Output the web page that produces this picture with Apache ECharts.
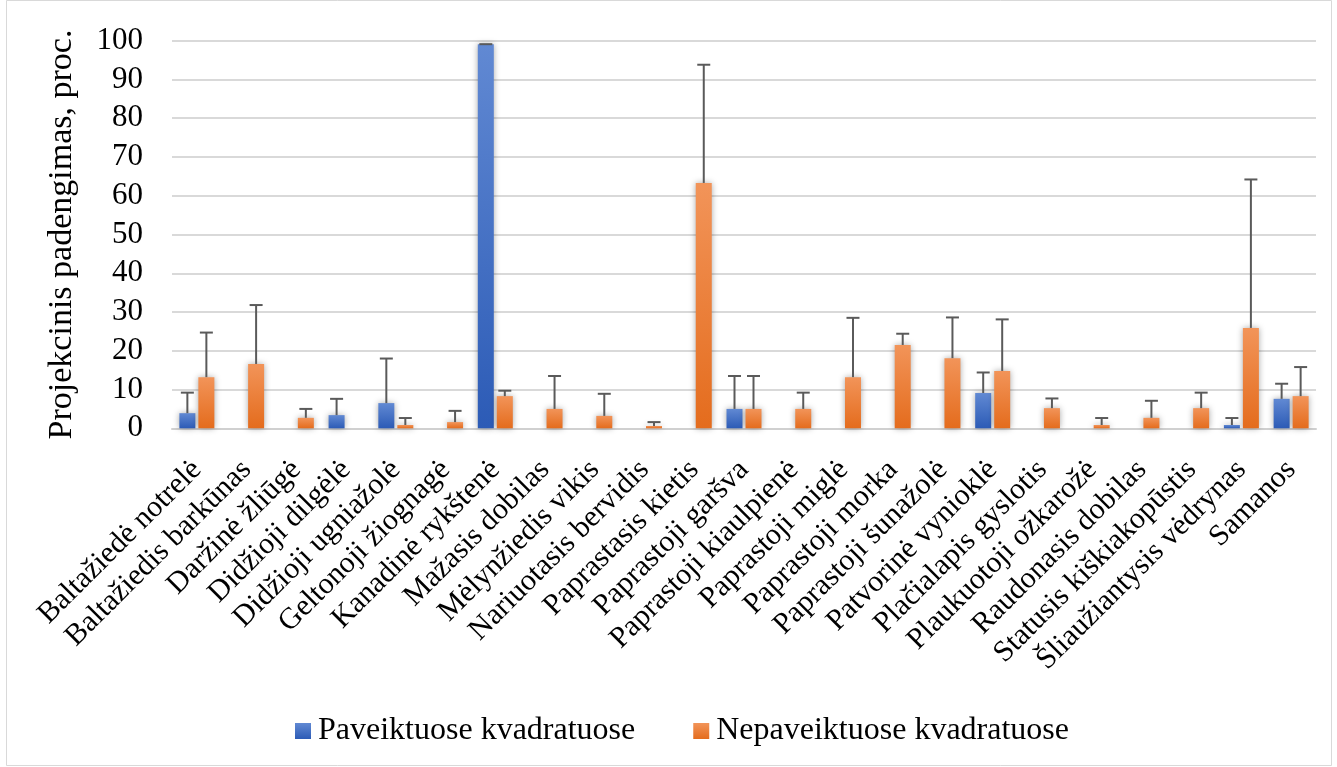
<!DOCTYPE html>
<html>
<head>
<meta charset="utf-8">
<script src="https://cdn.jsdelivr.net/npm/echarts@6/dist/echarts.min.js"></script>
<style>html,body{margin:0;padding:0;background:#fff}#c{width:1337px;height:767px}</style>
</head>
<body>
<div id="c"></div>
<script>
const categories = [
  "Baltažiedė notrelė", "Baltažiedis barkūnas", "Daržinė žliūgė", "Didžioji dilgėlė",
  "Didžioji ugniažolė", "Geltonoji žiognagė", "Kanadinė rykštenė", "Mažasis dobilas",
  "Mėlynžiedis vikis", "Nariuotasis bervidis", "Paprastasis kietis", "Paprastoji garšva",
  "Paprastoji kiaulpienė", "Paprastoji miglė", "Paprastoji morka", "Paprastoji šunažolė",
  "Patvorinė vynioklė", "Plačialapis gyslotis", "Plaukuotoji ožkarožė", "Raudonasis dobilas",
  "Statusis kiškiakopūstis", "Šliaužiantysis vėdrynas", "Samanos"
];
const seriesNames = ["Paveiktuose kvadratuose", "Nepaveiktuose kvadratuose"];
const paveiktuose = [3.9, 0, 0, 3.4, 6.5, 0, 99.1, 0, 0, 0, 0, 5.0, 0, 0, 0, 0, 9.1, 0, 0, 0, 0, 0.85, 7.6];
const paveiktuoseErr = [5.3, 0, 0, 4.2, 11.5, 0, 0, 0, 0, 0, 0, 8.5, 0, 0, 0, 0, 5.3, 0, 0, 0, 0, 1.8, 3.9];
const nepaveiktuose = [13.2, 16.6, 2.7, 0, 0.85, 1.6, 8.3, 5.0, 3.2, 0.6, 63.3, 5.0, 5.0, 13.2, 21.5, 18.1, 14.8, 5.2, 0.85, 2.7, 5.2, 25.9, 8.3];
const nepaveiktuoseErr = [11.5, 15.2, 2.3, 0, 1.8, 2.9, 1.4, 8.5, 5.7, 1.0, 30.5, 8.5, 4.2, 15.3, 2.9, 10.5, 13.3, 2.5, 1.8, 4.4, 4.0, 38.3, 7.5];
const yTicks = { min: 0, max: 100, interval: 10 };

const FONT = "'Liberation Serif', serif";
const BAR_W = 16, BAR_GAP_PX = 3;

function grad(top, bottom) {
  return new echarts.graphic.LinearGradient(0, 0, 0, 1, [
    { offset: 0, color: top }, { offset: 1, color: bottom }
  ]);
}
const blue = grad('#6189d3', '#2c5bb6');
const orange = grad('#f29459', '#e46c1d');

function errSeries(vals, errs, sign) {
  return {
    type: 'custom',
    z: 10,
    silent: true,
    encode: { x: 0, y: 1 },
    data: vals.map((v, i) => [i, v, errs[i]]),
    renderItem: function (params, api) {
      const i = api.value(0), v = api.value(1), e = api.value(2);
      if (!v) return null;
      const p0 = api.coord([i, v]);
      const p1 = api.coord([i, v + e]);
      const x = p0[0] + sign * (BAR_W + BAR_GAP_PX) / 2;
      const st = { stroke: '#5a5a5a', lineWidth: 2 };
      return {
        type: 'group',
        children: [
          { type: 'line', shape: { x1: x, y1: p0[1], x2: x, y2: p1[1] }, style: st },
          { type: 'line', shape: { x1: x - 6.5, y1: p1[1], x2: x + 6.5, y2: p1[1] }, style: st }
        ]
      };
    }
  };
}

const chart = echarts.init(document.getElementById('c'), null, { renderer: 'canvas' });
chart.setOption({
  animation: false,
  backgroundColor: '#fff',
  textStyle: { fontFamily: FONT },
  graphic: [{
    type: 'rect', shape: { x: 6.5, y: 0.5, width: 1325, height: 765 },
    style: { fill: 'none', stroke: '#d9d9d9', lineWidth: 1 }, z: -1
  }],
  grid: { left: 172, right: 21, top: 40.7, bottom: 338.7, containLabel: false },
  legend: {
    data: seriesNames,
    left: 290, top: 710,
    itemWidth: 16, itemHeight: 16, itemGap: 58,
    icon: 'rect',
    textStyle: { fontFamily: FONT, fontSize: 32, color: '#000', padding: [0, 0, 0, 2] }
  },
  xAxis: {
    type: 'category',
    data: categories,
    axisTick: { show: false },
    axisLine: { lineStyle: { color: '#d0d0d0', width: 2 } },
    axisLabel: {
      interval: 0, rotate: 45, margin: 37,
      fontFamily: FONT, fontSize: 30, color: '#000'
    }
  },
  yAxis: {
    type: 'value',
    min: yTicks.min, max: yTicks.max, interval: yTicks.interval,
    name: 'Projekcinis padengimas, proc.',
    nameLocation: 'middle', nameRotate: 90, nameGap: 93,
    nameTextStyle: { fontFamily: FONT, fontSize: 34, color: '#000' },
    axisLine: { show: false }, axisTick: { show: false },
    axisLabel: { margin: 29, fontFamily: FONT, fontSize: 31, color: '#000' },
    splitLine: { lineStyle: { color: '#d9d9d9', width: 2 } }
  },
  series: [
    {
      name: seriesNames[0], type: 'bar', data: paveiktuose,
      barWidth: BAR_W, barGap: (BAR_GAP_PX / BAR_W * 100) + '%',
      itemStyle: { color: blue, shadowBlur: 6, shadowColor: 'rgba(0,0,0,0.35)' }
    },
    {
      name: seriesNames[1], type: 'bar', data: nepaveiktuose,
      barWidth: BAR_W,
      itemStyle: { color: orange, shadowBlur: 6, shadowColor: 'rgba(0,0,0,0.35)' }
    },
    errSeries(paveiktuose, paveiktuoseErr, -1),
    errSeries(nepaveiktuose, nepaveiktuoseErr, 1)
  ]
});
</script>
</body>
</html>
